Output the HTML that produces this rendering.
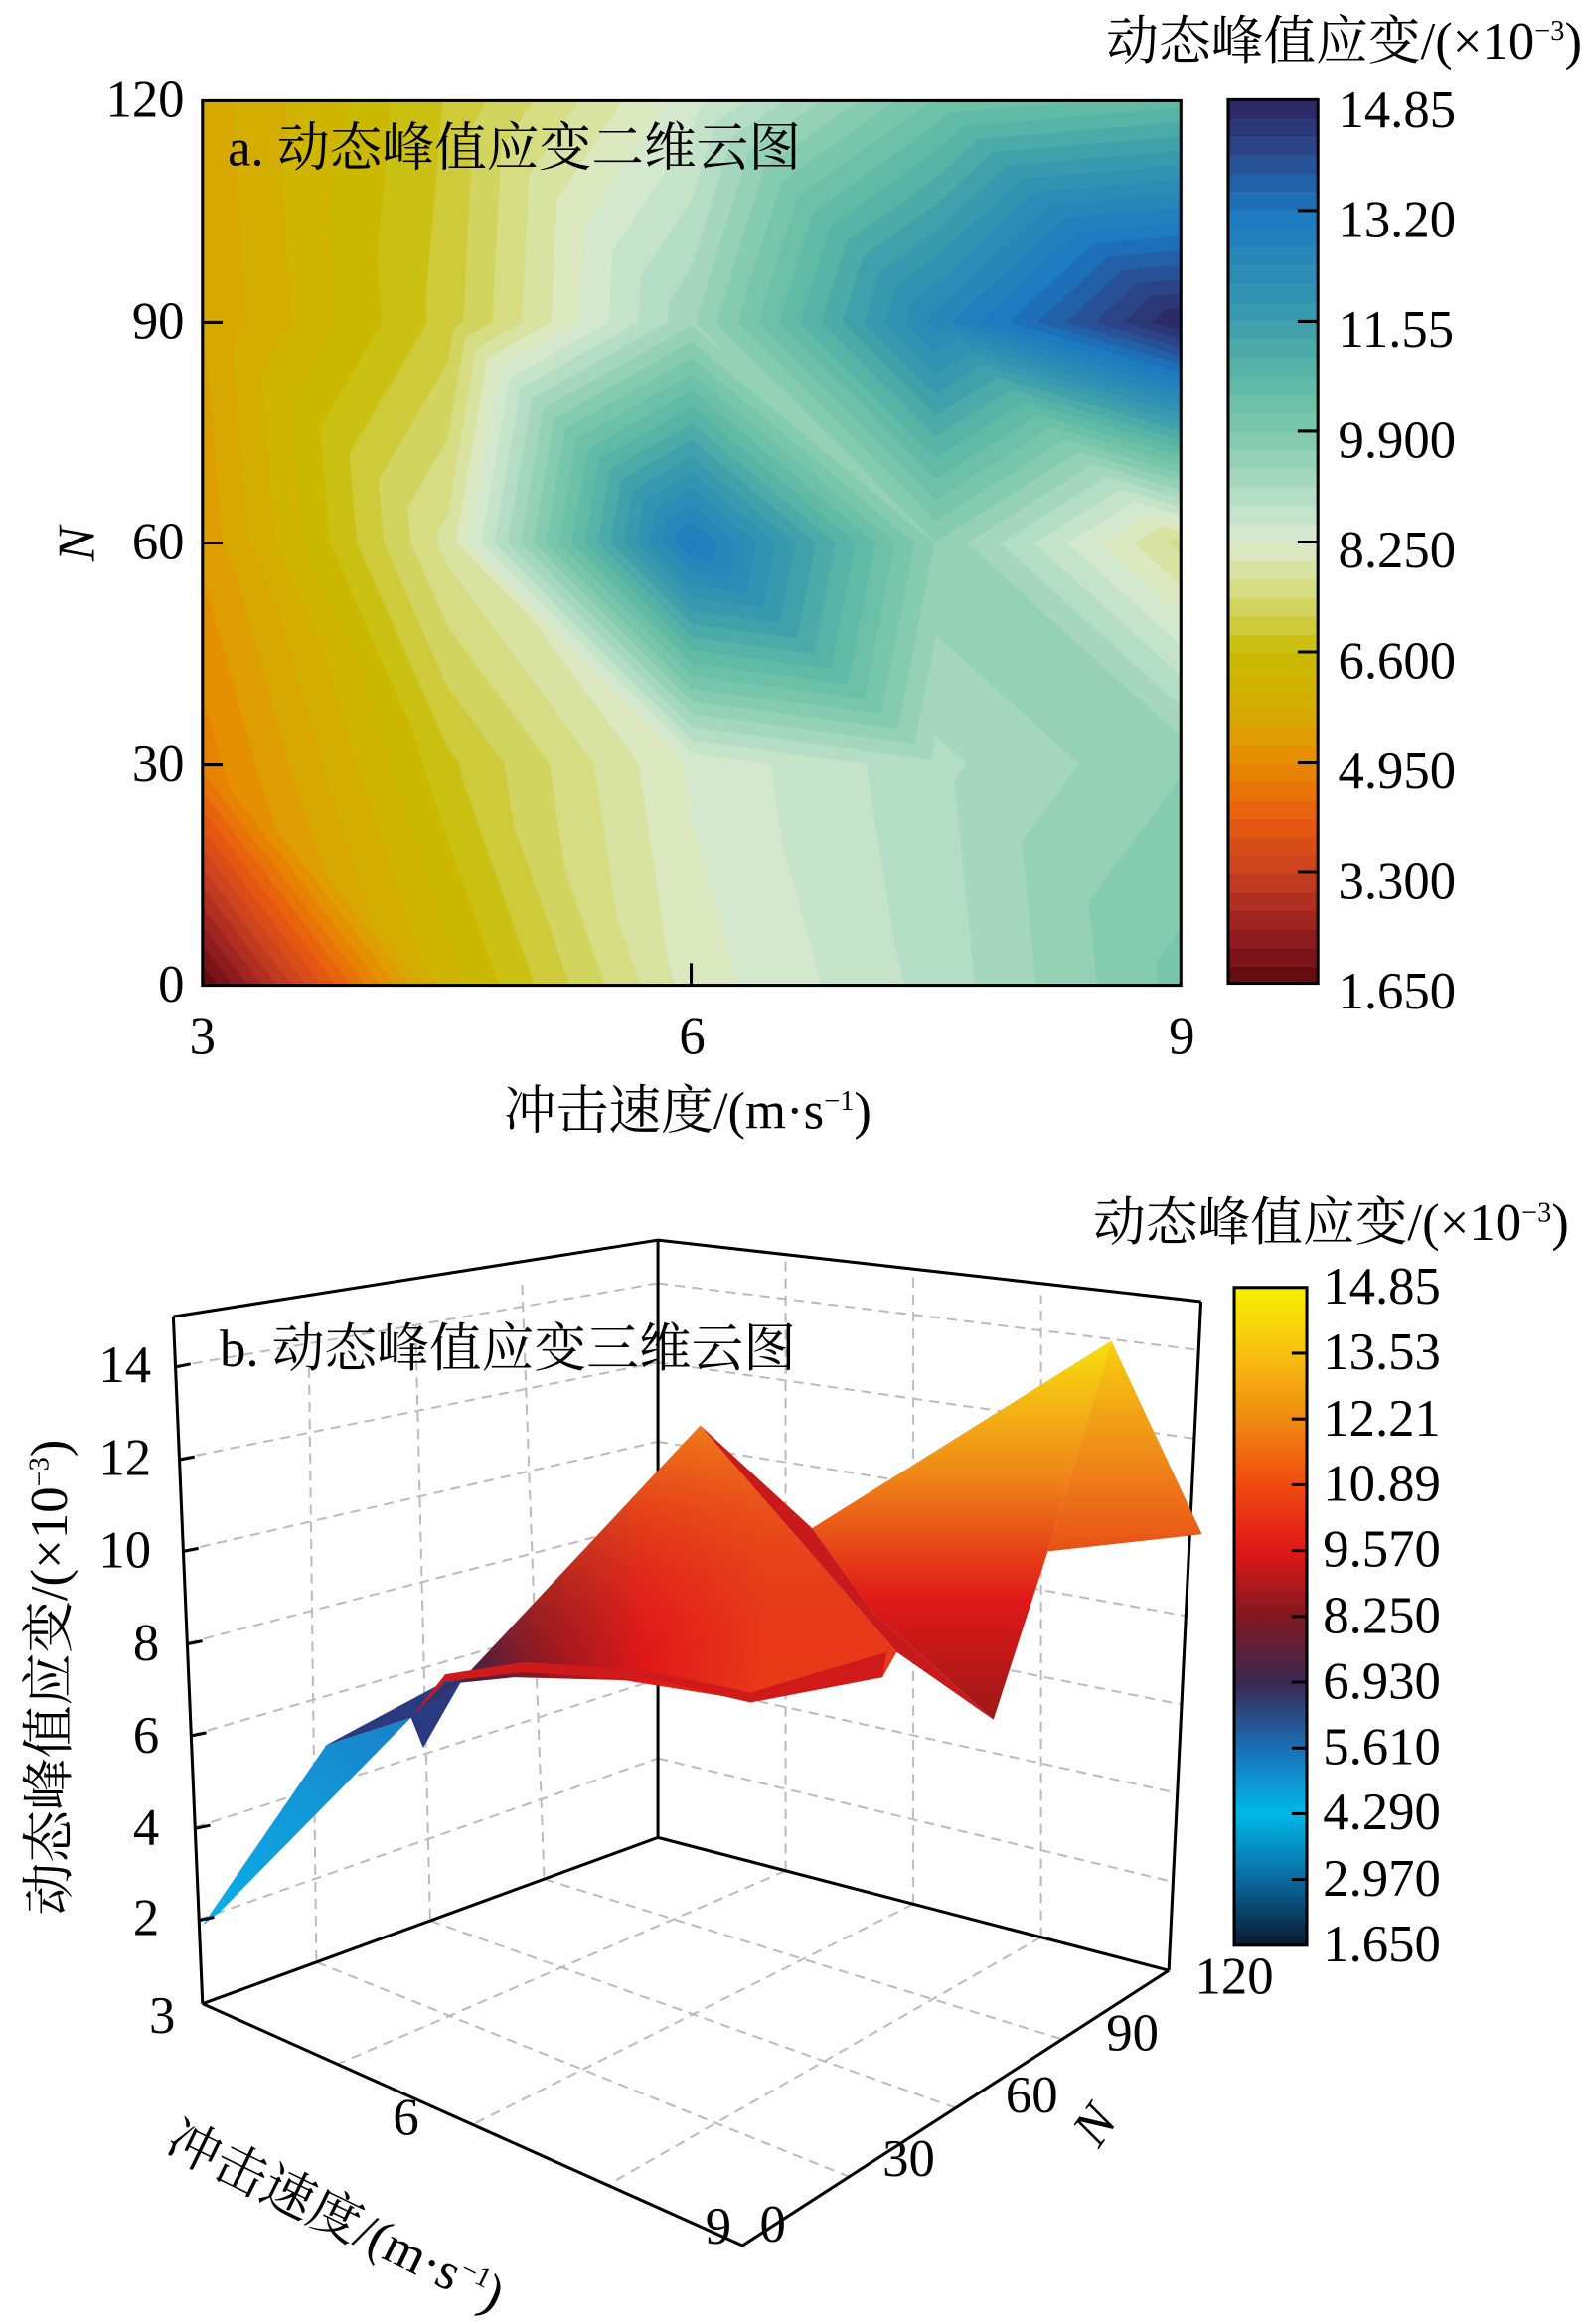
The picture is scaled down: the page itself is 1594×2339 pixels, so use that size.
<!DOCTYPE html>
<html><head><meta charset="utf-8">
<style>
body{margin:0;background:#fff;overflow:hidden;}
#wrap{position:relative;width:1594px;height:2283px;overflow:visible;font-family:"Liberation Serif","Noto Serif CJK SC",serif;color:#000;transform:scale(1.0139);transform-origin:0 0;}
.t{position:absolute;font-size:52px;line-height:1;white-space:nowrap;}
.r{text-align:right;width:100px;}
canvas{position:absolute;}
</style></head><body><div id="wrap">
<canvas id="ca" width="971" height="878" style="left:201px;top:100px;"></canvas>
<canvas id="cb" width="89" height="877" style="left:1219px;top:99px;"></canvas>
<svg width="1594" height="2283" style="position:absolute;left:0;top:0">
<rect x="201" y="100" width="971" height="878" fill="none" stroke="#000" stroke-width="3"/>
<rect x="1219" y="99" width="89" height="877" fill="none" stroke="#000" stroke-width="3"/>
<g stroke="#000" stroke-width="3">
<line x1="201" y1="320" x2="221" y2="320"/><line x1="201" y1="539" x2="221" y2="539"/><line x1="201" y1="759" x2="221" y2="759"/>
<line x1="686" y1="978" x2="686" y2="956"/>
<line x1="1288" y1="209" x2="1308" y2="209"/><line x1="1288" y1="319" x2="1308" y2="319"/><line x1="1288" y1="428" x2="1308" y2="428"/><line x1="1288" y1="538" x2="1308" y2="538"/><line x1="1288" y1="647" x2="1308" y2="647"/><line x1="1288" y1="757" x2="1308" y2="757"/><line x1="1288" y1="866" x2="1308" y2="866"/>
</g>
<g stroke="#bbb" stroke-width="2" stroke-dasharray="10,7" fill="none" id="grid"></g>
<defs>
<linearGradient id="cbb" x1="0" y1="0" x2="0" y2="1">
<stop offset="0" stop-color="#f8f000"/><stop offset="0.1" stop-color="#f8c010"/><stop offset="0.2" stop-color="#f08a10"/><stop offset="0.3" stop-color="#f04a10"/><stop offset="0.4" stop-color="#e01818"/><stop offset="0.5" stop-color="#801820"/><stop offset="0.6" stop-color="#3a2850"/><stop offset="0.7" stop-color="#1a70b8"/><stop offset="0.8" stop-color="#00b8e8"/><stop offset="0.9" stop-color="#0a6aa0"/><stop offset="1" stop-color="#0a1a30"/>
</linearGradient>
<linearGradient id="g1" x1="0" y1="1" x2="1" y2="0"><stop offset="0" stop-color="#0ab0e8"/><stop offset="1" stop-color="#1a80c8"/></linearGradient>
<linearGradient id="g2" x1="420" y1="0" x2="760" y2="0" gradientUnits="userSpaceOnUse"><stop offset="0" stop-color="#2a3a80"/><stop offset="0.15" stop-color="#4a2040"/><stop offset="0.35" stop-color="#901820"/><stop offset="0.65" stop-color="#e01818"/><stop offset="1" stop-color="#e83a18"/></linearGradient>
<linearGradient id="g2v" x1="0" y1="1400" x2="0" y2="1660" gradientUnits="userSpaceOnUse"><stop offset="0" stop-color="#f08a18" stop-opacity="0.95"/><stop offset="1" stop-color="#e02020" stop-opacity="0"/></linearGradient>
<linearGradient id="g3" x1="0" y1="1330" x2="0" y2="1700" gradientUnits="userSpaceOnUse"><stop offset="0" stop-color="#f8e010"/><stop offset="0.35" stop-color="#f08a18"/><stop offset="0.7" stop-color="#e01818"/><stop offset="1" stop-color="#a01818"/></linearGradient>
<linearGradient id="g4" x1="0" y1="1330" x2="0" y2="1540" gradientUnits="userSpaceOnUse"><stop offset="0" stop-color="#f8d010"/><stop offset="0.5" stop-color="#f09018"/><stop offset="1" stop-color="#e85018"/></linearGradient>
</defs>
<g stroke="#000" stroke-width="3" fill="none">
<polyline points="172,1307 653,1231 1192,1292"/>
<line x1="653" y1="1231" x2="653" y2="1824"/>
<line x1="172" y1="1307" x2="201" y2="1989"/>
<line x1="1192" y1="1292" x2="1160" y2="1956"/>
<polyline points="201,1989 653,1824 1160,1956"/>
<polyline points="201,1989 737,2229 1160,1956"/>
</g>
<polygon points="201,1911 324,1732 408,1705 218,1898" fill="url(#g1)"/>
<polygon points="324,1732 442,1669 459,1667 420,1735 408,1705" fill="#2a3a80"/>
<polygon points="408,1705 442,1672 510,1665 620,1668 745,1688 800,1675 876,1665 890,1640 695,1415 459,1667" fill="url(#g2)"/>
<polygon points="459,1667 695,1415 890,1640 876,1665 745,1688" fill="url(#g2v)"/>
<polygon points="408,1705 442,1669 520,1660 650,1668 745,1690 876,1665 880,1640 745,1680 640,1658 520,1650 442,1662" fill="#d01a1a"/>
<polygon points="806,1517 1103,1331 1040,1540 986,1707 866,1600" fill="url(#g3)"/>
<polygon points="695,1415 806,1517 866,1600 986,1707 890,1640" fill="#c81a1a"/>
<polygon points="1103,1331 1193,1523 1040,1540" fill="url(#g4)"/>
<rect x="1225" y="1278" width="72" height="653" fill="url(#cbb)" stroke="#000" stroke-width="3"/>
<g stroke="#000" stroke-width="3" id="tk"></g>
</svg>
<div class="t" style="left:1098px;top:16px;">动态峰值应变/(×10<sup style="font-size:28px">−3</sup>)</div>
<div class="t r" style="left:83px;top:74px">120</div>
<div class="t r" style="left:83px;top:294px">90</div>
<div class="t r" style="left:83px;top:513px">60</div>
<div class="t r" style="left:83px;top:733px">30</div>
<div class="t r" style="left:83px;top:952px">0</div>
<div class="t" style="left:188px;top:1004px">3</div>
<div class="t" style="left:674px;top:1004px">6</div>
<div class="t" style="left:1160px;top:1004px">9</div>
<div class="t" style="left:500px;top:1078px;">冲击速度/(m·s<sup style="font-size:28px">−1</sup>)</div>
<div class="t" style="left:60px;top:514px;font-style:italic;transform:rotate(-90deg);">N</div>
<div class="t" style="left:226px;top:122px;">a. 动态峰值应变二维云图</div>
<div class="t" style="left:1328px;top:84px">14.85</div>
<div class="t" style="left:1328px;top:193px">13.20</div>
<div class="t" style="left:1328px;top:302px">11.55</div>
<div class="t" style="left:1328px;top:412px">9.900</div>
<div class="t" style="left:1328px;top:521px">8.250</div>
<div class="t" style="left:1328px;top:631px">6.600</div>
<div class="t" style="left:1328px;top:740px">4.950</div>
<div class="t" style="left:1328px;top:850px">3.300</div>
<div class="t" style="left:1328px;top:959px">1.650</div>

<div class="t" style="left:1085px;top:1189px;">动态峰值应变/(×10<sup style="font-size:28px">−3</sup>)</div>
<div class="t" style="left:218px;top:1314px;">b. 动态峰值应变三维云图</div>
<div id="cbl"></div>
<div class="t r" style="left:50px;top:1330px">14</div>
<div class="t r" style="left:50px;top:1422px">12</div>
<div class="t r" style="left:50px;top:1514px">10</div>
<div class="t r" style="left:58px;top:1606px">8</div>
<div class="t r" style="left:58px;top:1698px">6</div>
<div class="t r" style="left:58px;top:1789px">4</div>
<div class="t r" style="left:58px;top:1879px">2</div>
<div class="t" style="left:148px;top:1976px">3</div>
<div class="t" style="left:390px;top:2077px">6</div>
<div class="t" style="left:700px;top:2185px">9</div>
<div class="t" style="left:754px;top:2183px">0</div>
<div class="t" style="left:876px;top:2118px">30</div>
<div class="t" style="left:998px;top:2055px">60</div>
<div class="t" style="left:1098px;top:1993px">90</div>
<div class="t" style="left:1186px;top:1937px">120</div>
<div class="t" style="left:1070px;top:2084px;font-style:italic;transform:rotate(-55deg)">N</div>
<div class="t" style="left:180px;top:2098px;transform:rotate(26deg);transform-origin:0 0">冲击速度/(m·s<sup style="font-size:28px">−1</sup>)</div>
<div class="t" style="left:-175px;top:1650px;transform:rotate(-90deg);width:450px;text-align:center">动态峰值应变/(×10<sup style="font-size:28px">−3</sup>)</div>
</div>
<script>
function hex(h){return [parseInt(h.substr(1,2),16),parseInt(h.substr(3,2),16),parseInt(h.substr(5,2),16)];}
var cs=[[1.65,'#5c0a10'],[2.5,'#9a1f20'],[3.3,'#c84020'],[4.1,'#e85a10'],[4.95,'#e88a00'],[5.6,'#d8a800'],[6.6,'#c8bc00'],[7.4,'#d4d870'],[8.25,'#dcebd0'],[9.0,'#b0dcc4'],[9.9,'#7cc8ac'],[10.7,'#5cb8a4'],[11.55,'#3c9cac'],[12.4,'#2a88b8'],[13.2,'#1a78c0'],[14.0,'#2a4c90'],[14.85,'#2c2460']];
function col(v){if(v<=cs[0][0])return hex(cs[0][1]);for(var i=1;i<cs.length;i++){if(v<=cs[i][0]){var a=hex(cs[i-1][1]),b=hex(cs[i][1]),t=(v-cs[i-1][0])/(cs[i][0]-cs[i-1][0]);return [a[0]+(b[0]-a[0])*t,a[1]+(b[1]-a[1])*t,a[2]+(b[2]-a[2])*t];}}return hex(cs[cs.length-1][1]);}
var G=[[1.65,6.2,8.1,8.9,10.0],[4.8,6.8,8.3,9.0,9.6],[5.3,7.8,13.0,9.6,7.6],[5.5,7.0,9.3,12.5,14.85],[5.6,6.9,8.4,10.2,10.6]];
var NL=48,d=(14.85-1.65)/NL;
function q(v){var k=Math.floor((v-1.65)/d);if(k<0)k=0;if(k>NL-1)k=NL-1;return 1.65+(k+0.5)*d;}
var c=document.getElementById('ca'),x=c.getContext('2d'),W=c.width,H=c.height,im=x.createImageData(W,H);
for(var py=0;py<H;py++){var gy=(H-1-py)/(H-1)*4,j=Math.min(3,Math.floor(gy)),ty=gy-j;
for(var px=0;px<W;px++){var gx=px/(W-1)*4,i=Math.min(3,Math.floor(gx)),tx=gx-i;
var v;if(tx+ty<=1){v=G[j][i]+(G[j][i+1]-G[j][i])*tx+(G[j+1][i]-G[j][i])*ty;}else{v=G[j+1][i+1]+(G[j+1][i]-G[j+1][i+1])*(1-tx)+(G[j][i+1]-G[j+1][i+1])*(1-ty);}
var cc=col(q(v)),o=(py*W+px)*4;im.data[o]=cc[0];im.data[o+1]=cc[1];im.data[o+2]=cc[2];im.data[o+3]=255;}}
x.putImageData(im,0,0);
var b=document.getElementById('cb'),y=b.getContext('2d');
for(var k=0;k<NL;k++){var cc=col(1.65+(k+0.5)*d);y.fillStyle='rgb('+cc.map(Math.round).join(',')+')';var h=b.height/NL;y.fillRect(0,b.height-(k+1)*h,b.width,h+1);y.fillStyle='rgba(255,255,255,0.35)';y.fillRect(0,b.height-(k+1)*h,b.width,1);}
var ns='http://www.w3.org/2000/svg',g=document.getElementById('grid');
function L(a,b2,c2,d2){var l=document.createElementNS(ns,'line');l.setAttribute('x1',a);l.setAttribute('y1',b2);l.setAttribute('x2',c2);l.setAttribute('y2',d2);g.appendChild(l);}
function lerp(p,q2,t){return [p[0]+(q2[0]-p[0])*t,p[1]+(q2[1]-p[1])*t];}
var FL=[201,1989],BK=[653,1824],RT=[1160,1956],FR=[737,2229];
var zl=45.75,zb=39.3,zr=44;
for(var z=2;z<=14;z+=2){L(201-z*1.9,1997-z*zl,653,1824-z*zb);L(653,1824-z*zb,1160+z*2.1,1956-z*zr);}
for(var t=0.25;t<1;t+=0.25){var p=lerp(FL,BK,t),p2=lerp(FR,RT,t);L(p[0],p[1],p2[0],p2[1]);L(p[0]-t*29,p[1]-590,p[0],p[1]);
var r=lerp(BK,RT,t);var r2=lerp(FL,FR,t);L(r[0],r[1],r2[0],r2[1]);L(r[0],r[1],r[0],r[1]-600-t*50);}
var tk=document.getElementById('tk');
var labs=['14.85','13.53','12.21','10.89','9.570','8.250','6.930','5.610','4.290','2.970','1.650'];
var html='';for(var k=0;k<11;k++){var yy=1278+k*65.3;if(k>0&&k<10){var l=document.createElementNS(ns,'line');l.setAttribute('x1',1282);l.setAttribute('x2',1297);l.setAttribute('y1',yy);l.setAttribute('y2',yy);tk.appendChild(l);}
html+='<div class="t" style="left:1313px;top:'+(yy-26)+'px">'+labs[k]+'</div>';}
document.getElementById('cbl').innerHTML=html;
var zt=[[2,1906],[4,1815],[6,1723],[8,1632],[10,1540],[12,1449],[14,1357]];
zt.forEach(function(a){var l=document.createElementNS(ns,'line');var xx=172+(a[1]-1307)/(1989-1307)*29;l.setAttribute('x1',xx);l.setAttribute('x2',xx+15);l.setAttribute('y1',a[1]);l.setAttribute('y2',a[1]-3);tk.appendChild(l);});
</script>
</body></html>
